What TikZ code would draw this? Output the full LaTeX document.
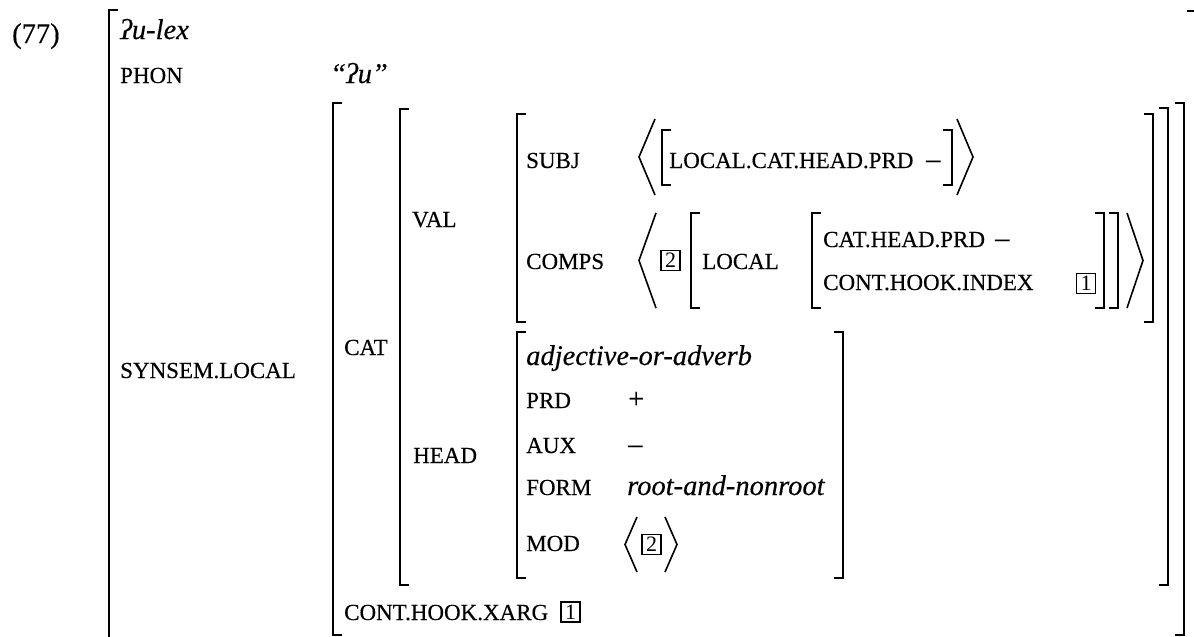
\documentclass[tikz,border=0pt]{standalone}
\usepackage{fontspec}
\setmainfont{Liberation Serif}[FakeBold=0.3]
\newfontfamily\tagfont{Liberation Serif}
\tikzset{
  sc/.style={anchor=base west, inner sep=0pt, font=\fontsize{23}{26}\selectfont},
  itx/.style={anchor=base west, inner sep=0pt, font=\fontsize{28.5}{32}\selectfont\itshape},
  rmx/.style={anchor=base west, inner sep=0pt, font=\fontsize{28.5}{32}\selectfont},
  tagbox/.style={draw, line width=1.1pt, minimum width=19pt, minimum height=20pt, inner sep=0pt, font=\tagfont\fontsize{22}{22}\selectfont},
  brk/.style={line width=2.4pt, line join=miter},
  sbrk/.style={line width=2pt, line join=miter},
  ang/.style={line width=1.6pt, line join=miter}
}
\newcommand\LBr[4][brk]{\draw[#1] ({#2+9},#3) -- (#2,#3) -- (#2,#4) -- ({#2+9},#4);}
\newcommand\RBr[4][brk]{\draw[#1] ({#2-9},#3) -- (#2,#3) -- (#2,#4) -- ({#2-9},#4);}
\newcommand\LAng[4]{\draw[ang] (#2,#3) -- (#1,{(#3+#4)/2}) -- (#2,#4);}
\begin{document}
\begin{tikzpicture}[x=1pt,y=-1pt]
\useasboundingbox (0,0) rectangle (1194,637);
\clip (0,0) rectangle (1194,637);
\fill[white] (0,0) rectangle (1194,637);
% example number
\node[rmx] (num) at (12,43) {(77)};
% outermost brackets
\LBr{109}{10}{660}
\RBr{1196}{11}{660}
\node[itx] (type) at (120,39) {ʔu-lex};
\node[sc] (phon) at (120,83) {PHON};
\node[itx] (phonv) at (330,83) {“ʔu”};
\node[sc] (synsem) at (120,378) {SYNSEM.LOCAL};
% SYNSEM.LOCAL value
\LBr{333}{103}{635}
\RBr{1184}{103}{635}
\node[sc] (cat) at (344,355) {CAT};
\node[sc] (xarg) at (344,620) {CONT.HOOK.XARG};
\node[tagbox] (xargv) at (570.5,612) {1};
% CAT value
\LBr{400}{109}{585}
\RBr{1168}{108}{585}
\node[sc] (val) at (412,227) {VAL};
\node[sc] (head) at (413,463) {HEAD};
% VAL value
\LBr{517}{114}{322}
\RBr{1153}{114}{322}
\node[sc] (subj) at (526,168) {SUBJ};
\node[sc] (comps) at (526,269) {COMPS};
% SUBJ list
\LAng{639}{655}{119}{195}
\draw[ang] (957,119) -- (973,157) -- (957,195);
\LBr[sbrk]{662}{130}{185}
\RBr[sbrk]{952}{130}{185}
\node[sc] (subjp) at (669,168) {LOCAL.CAT.HEAD.PRD};
\node[rmx] (subjv) at (926,168) {–};
% COMPS list
\LAng{639}{656}{213}{308}
\draw[ang] (1127,213) -- (1143,260.5) -- (1127,308);
\node[tagbox] (compst) at (670.5,260.5) {2};
\LBr[sbrk]{691}{213}{308}
\RBr[sbrk]{1118}{213}{308}
\node[sc] (local) at (702,269) {LOCAL};
\LBr[sbrk]{812}{213}{308}
\RBr[sbrk]{1104}{213}{308}
\node[sc] (prd1) at (823,247) {CAT.HEAD.PRD};
\node[rmx] (prd1v) at (995,247) {–};
\node[sc] (index) at (823,290) {CONT.HOOK.INDEX};
\node[tagbox] (indexv) at (1086,283.5) {1};
% HEAD value
\LBr{517}{332}{578}
\RBr{843}{332}{578}
\node[itx] (htype) at (526,365) {adjective-or-adverb};
\node[sc] (prd) at (526,408) {PRD};
\node[rmx] (prdv) at (628,408) {+};
\node[sc] (aux) at (526,453) {AUX};
\node[rmx] (auxv) at (628,453) {–};
\node[sc] (form) at (526,495) {FORM};
\node[itx] (formv) at (627,495) {root-and-nonroot};
\node[sc] (mod) at (526,551) {MOD};
\LAng{625}{637}{517}{572}
\draw[ang] (665,517) -- (677,544.5) -- (665,572);
\node[tagbox] (modv) at (651.5,544.5) {2};
\end{tikzpicture}
\end{document}
